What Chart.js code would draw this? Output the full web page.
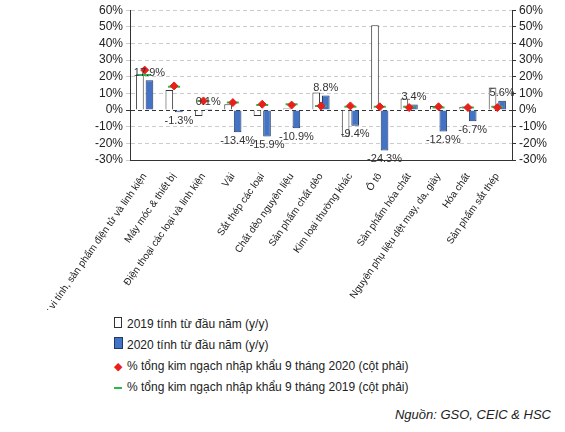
<!DOCTYPE html>
<html><head><meta charset="utf-8">
<script src="https://cdn.jsdelivr.net/npm/chart.js@4"></script>
<style>
body{margin:0;background:#fff;font-family:"Liberation Sans",Arial,sans-serif;}
#wrap{position:relative;width:565px;height:310px;}
.legend{position:absolute;left:112px;top:314px;font-size:12px;color:#222;line-height:21px;}
.legend span.m{display:inline-block;width:12px;margin-right:3px;text-align:center;}
.src{position:absolute;right:14px;top:407px;font-size:13px;font-style:italic;color:#222;}
</style></head><body>
<div id="wrap"><canvas id="c"></canvas></div>
<div class="legend">
<div><span class="m"><span style="display:inline-block;width:6px;height:9px;border:1px solid #333;"></span></span>2019 tính từ đầu năm (y/y)</div>
<div><span class="m"><span style="display:inline-block;width:7px;height:10px;background:#4472c4;border:1px solid #1f3864;"></span></span>2020 tính từ đầu năm (y/y)</div>
<div><span class="m" style="color:#e8201a;font-size:11px;">◆</span>% tổng kim ngạch nhập khẩu 9 tháng 2020 (cột phải)</div>
<div><span class="m"><span style="display:inline-block;width:8px;height:2px;background:#2eb84b;vertical-align:middle;"></span></span>% tổng kim ngạch nhập khẩu 9 tháng 2019 (cột phải)</div>
</div>
<div class="src">Nguồn: GSO, CEIC &amp; HSC</div>
<script>
const categories = ['Máy vi tính, sản phẩm điện tử và linh kiện','Máy móc & thiết bị','Điện thoại các loại và linh kiện','Vải','Sắt thép các loại','Chất dẻo nguyên liệu','Sản phẩm chất dẻo','Kim loại thường khác','Ô tô','Sản phẩm hóa chất','Nguyên phụ liệu dệt may, da, giày','Hóa chất','Sản phẩm sắt thép'];
const ytd2019 = [21.5, 12, -3.5, 3.5, -3.5, 1, 10.5, -16, 51, 7, 2.5, 2, 13.5];
const ytd2020 = [17.9, -1.3, 0.1, -13.4, -15.9, -10.9, 8.8, -9.4, -24.3, 3.4, -12.9, -6.7, 5.6];
const share2020 = [24, 14.5, 5.5, 4.5, 3.5, 3, 2.5, 2.5, 2, 1.5, 2, 1.5, 1.5];
const share2019 = [21, 14, 5.5, 4.5, 3, 3.5, 2.5, 2, 2, 2, 1.5, 1.5, 2];

const labelPlugin = {
  id: 'vals',
  afterDatasetsDraw(chart) {
    const ctx = chart.ctx;
    const meta = chart.getDatasetMeta(1);
    ctx.save();
    ctx.font = '11px "Liberation Sans", Arial';
    ctx.fillStyle = '#333';
    ctx.textAlign = 'center';
    meta.data.forEach((el, i) => {
      const v = ytd2020[i];
      if (v >= 0) { ctx.textBaseline = 'bottom'; ctx.fillText(v.toFixed(1) + '%', el.x, el.y - 2); }
      else { ctx.textBaseline = 'top'; ctx.fillText(v.toFixed(1) + '%', el.x, el.y + 3); }
    });
    ctx.restore();
  }
};

const tickFont = { family: '"Liberation Sans", Arial', size: 12 };
new Chart(document.getElementById('c'), {
  type: 'bar',
  data: {
    labels: categories,
    datasets: [
      { label: '2019', data: ytd2019, backgroundColor: '#fff', borderColor: '#333', borderWidth: 1, barPercentage: 0.8, categoryPercentage: 0.65, order: 2 },
      { label: '2020', data: ytd2020, backgroundColor: '#4472c4', borderColor: '#1f3864', borderWidth: 1, barPercentage: 0.8, categoryPercentage: 0.65, order: 2 },
      { type: 'line', label: 's2020', data: share2020, yAxisID: 'y2', showLine: false, pointStyle: 'rectRot', pointRadius: 4, backgroundColor: '#e8201a', borderColor: '#e8201a', order: 0 },
      { type: 'line', label: 's2019', data: share2019, yAxisID: 'y2', showLine: false, pointStyle: 'line', pointRadius: 6, borderWidth: 2, borderColor: '#2eb84b', order: 1 }
    ]
  },
  options: {
    responsive: true, maintainAspectRatio: false, animation: false,
    layout: { padding: { top: 6, right: 8, left: 0 } },
    plugins: { legend: { display: false }, tooltip: { enabled: false } },
    scales: {
      x: { grid: { display: false }, border: { color: '#333' },
           afterFit: s => { s.height = 150; },
           ticks: { color: '#222', font: { family: '"Liberation Sans", Arial', size: 10 }, minRotation: 55, maxRotation: 55, autoSkip: false } },
      y: { min: -30, max: 60, afterFit: s => { s.width = 130; },
           ticks: { stepSize: 10, autoSkip: false, color: '#222', font: tickFont, callback: v => v + '%' },
           grid: { color: c => c.tick.value === 0 ? '#333' : '#ccc', lineWidth: 1, tickLength: 4 },
           border: { dash: [4, 3], color: '#333' } },
      y2: { position: 'right', min: -30, max: 60, afterFit: s => { s.width = 45; },
            ticks: { stepSize: 10, autoSkip: false, color: '#222', font: tickFont, callback: v => v + '%' },
            grid: { drawOnChartArea: false, tickLength: 4, color: '#333' }, border: { color: '#333' } }
    }
  },
  plugins: [labelPlugin]
});
</script>
</body></html>
